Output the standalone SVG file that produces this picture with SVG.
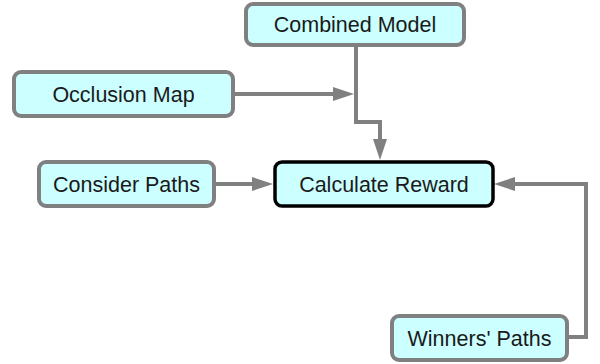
<svg xmlns="http://www.w3.org/2000/svg" width="600" height="364" viewBox="0 0 600 364">
<style>
.n rect{fill:#ccffff;stroke:#808080;stroke-width:4}
#calc rect{stroke:#000;stroke-width:3.5}
.n text{font-family:"Liberation Sans",Arial,sans-serif;font-size:21.5px;fill:#1a1a1a;text-anchor:middle}
.e{fill:none;stroke:#808080;stroke-width:4}
</style>
<defs>
<marker id="ah" markerUnits="userSpaceOnUse" markerWidth="22" markerHeight="16" refX="0" refY="7" orient="auto" overflow="visible">
<path d="M0,0 L21,7 L0,14 Z" fill="#808080"/>
</marker>
</defs>
<g id="connectors">
<path class="e" d="M356,45 V122 H380 V139" marker-end="url(#ah)"/>
<path class="e" d="M234,94 H333" marker-end="url(#ah)"/>
<path class="e" d="M214,184 H252" marker-end="url(#ah)"/>
<path class="e" d="M566,337 H586 V184 H515" marker-end="url(#ah)"/>
</g>
<g id="combined" class="n"><rect x="246" y="4" width="218" height="41" rx="7"/><text x="355" y="31.5">Combined Model</text></g>
<g id="occlusion" class="n"><rect x="14" y="72" width="219" height="44" rx="7"/><text x="123.5" y="101.5">Occlusion Map</text></g>
<g id="consider" class="n"><rect x="39" y="162" width="175" height="44" rx="7"/><text x="126.5" y="191.5">Consider Paths</text></g>
<g id="calc" class="n"><rect x="275" y="162" width="218" height="44" rx="7"/><text x="384" y="191.5">Calculate Reward</text></g>
<g id="winners" class="n"><rect x="392" y="316" width="175" height="44" rx="7"/><text x="479.5" y="345.5">Winners' Paths</text></g>
</svg>
